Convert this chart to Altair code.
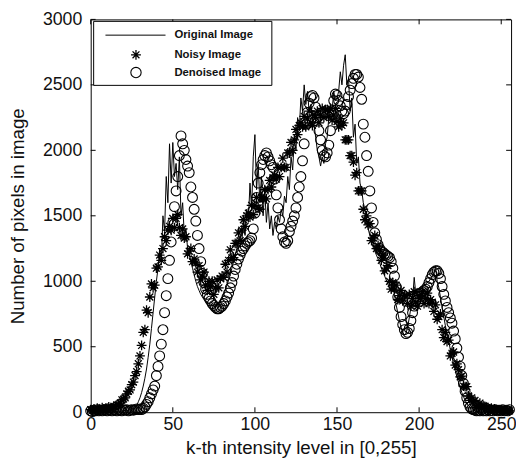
import altair as alt
import pandas as pd

# intensity levels 0..255
levels = list(range(256))

# Original image histogram (line)
original = [
    5, 10, 5, 10, 5, 10, 5, 10, 5, 10, 5, 10, 5, 10, 5, 10,
    5, 10, 5, 10, 10, 15, 10, 15, 20, 15, 20, 30, 50, 80, 110, 150,
    200, 260, 330, 420, 520, 640, 760, 880, 1000, 1100, 1250, 1150, 1500, 1380, 1800, 1600,
    2050, 1750, 2060, 1800, 1900, 1700, 1950, 1500, 1600, 1350, 1400, 1250, 1200, 1150, 1100, 1050,
    1000, 960, 930, 900, 880, 860, 850, 840, 830, 820, 820, 810, 810, 820, 830, 850,
    870, 900, 930, 970, 1010, 1050, 1100, 1150, 1200, 1250, 1300, 1350, 1300, 1450, 1350, 1550,
    1450, 1750, 1550, 1950, 2120, 1700, 1900, 1600, 1800, 1500, 1700, 1450, 1600, 1400, 1500, 1350,
    1450, 1400, 1500, 1450, 1550, 1500, 1650, 1600, 1800, 1700, 1950, 1850, 2100, 2000, 2250, 2150,
    2400, 2300, 2500, 2350, 2450, 2300, 2350, 2250, 2200, 2100, 2000, 1950, 1880, 1950, 1900, 2050,
    2100, 2250, 2350, 2300, 2450, 2380, 2400, 2450, 2600, 2500, 2650, 2730, 2500, 2550, 2300, 2400,
    2100, 2200, 1900, 1950, 1750, 1700, 1600, 1550, 1450, 1400, 1350, 1300, 1260, 1230, 1200, 1170,
    1140, 1100, 1070, 1040, 1010, 980, 950, 920, 1000, 900, 820, 760, 700, 650, 610, 590,
    600, 650, 720, 800, 860, 1030, 900, 920, 930, 940, 950, 960, 980, 990, 1000, 1020,
    1040, 1060, 1115, 1000, 950, 880, 800, 730, 660, 600, 540, 480, 420, 370, 320, 270,
    230, 190, 150, 120, 90, 70, 50, 40, 30, 20, 10, 10, 5, 10, 5, 10,
    5, 10, 5, 10, 5, 10, 5, 10, 5, 10, 5, 10, 5, 10, 5, 10,
]

# Noisy image histogram (asterisks)
noisy = [
    20, 15, 25, 10, 30, 20, 15, 35, 25, 20, 30, 40, 25, 35, 45, 40,
    55, 60, 70, 95, 100, 110, 140, 160, 170, 210, 230, 280, 310, 370, 430, 510,
    610, 630, 780, 760, 880, 980, 950, 970, 1100, 1110, 1200, 1160, 1250, 1340, 1310, 1390,
    1420, 1390, 1480, 1410, 1480, 1510, 1410, 1350, 1400, 1330, 1340, 1210, 1230, 1250, 1150, 1170,
    1140, 1070, 1120, 1010, 1040, 1070, 970, 930, 1000, 960, 1000, 900, 950, 1010, 950, 1020,
    1040, 1030, 1130, 1070, 1160, 1240, 1180, 1180, 1290, 1290, 1370, 1310, 1390, 1470, 1420, 1500,
    1520, 1490, 1580, 1510, 1580, 1640, 1560, 1550, 1640, 1630, 1700, 1630, 1700, 1770, 1720, 1790,
    1810, 1780, 1870, 1800, 1870, 1940, 1870, 1870, 1980, 1980, 2060, 2000, 2080, 2160, 2120, 2190,
    2210, 2180, 2260, 2180, 2240, 2300, 2210, 2190, 2270, 2250, 2300, 2210, 2270, 2320, 2250, 2310,
    2310, 2260, 2320, 2230, 2270, 2320, 2220, 2180, 2240, 2190, 2210, 2080, 2080, 2080, 1960, 1960,
    1910, 1810, 1830, 1690, 1690, 1690, 1550, 1470, 1500, 1430, 1440, 1310, 1330, 1350, 1250, 1270,
    1240, 1160, 1200, 1080, 1100, 1120, 1000, 940, 990, 940, 970, 860, 890, 930, 850, 890,
    890, 830, 900, 810, 870, 920, 840, 810, 890, 870, 920, 830, 870, 910, 830, 860,
    840, 770, 820, 710, 730, 750, 630, 570, 610, 540, 550, 430, 450, 460, 360, 370,
    325, 270, 275, 200, 195, 195, 125, 90, 110, 80, 90, 35, 50, 70, 30, 50,
    45, 35, 35, 25, 30, 20, 25, 20, 20, 15, 20, 15, 15, 10, 15, 10,
]

# Denoised image histogram (circles)
denoised = [
    10, 5, 15, 10, 20, 10, 15, 10, 20, 15, 10, 20, 15, 10, 20, 15,
    10, 20, 15, 10, 20, 15, 20, 10, 15, 20, 15, 20, 25, 20, 25, 20,
    30, 40, 60, 80, 110, 140, 170, 200, 280, 350, 430, 520, 630, 760, 890, 1020,
    1160, 1300, 1450, 1570, 1690, 1800, 1960, 2110, 2050, 2000, 1930, 1880, 1830, 1720, 1640, 1550,
    1460, 1350, 1250, 1150, 1060, 990, 940, 900, 870, 850, 830, 815, 800, 790, 790, 800,
    810, 830, 850, 880, 910, 950, 990, 1040, 1090, 1130, 1170, 1200, 1230, 1250, 1270, 1290,
    1300, 1310, 1330, 1400, 1520, 1640, 1750, 1830, 1890, 1930, 1960, 1980, 1950, 1920, 1890, 1870,
    1780, 1660, 1560, 1470, 1400, 1340, 1300, 1290, 1310, 1380, 1420, 1460, 1500, 1560, 1640, 1720,
    1800, 1920, 2050, 2200, 2290, 2360, 2410, 2420, 2400, 2330, 2250, 2150, 2080, 2000, 1960, 1950,
    1980, 2040, 2150, 2270, 2380, 2430, 2420, 2380, 2340, 2300, 2280, 2300, 2350, 2410, 2460, 2510,
    2550, 2580, 2580, 2560, 2480, 2390, 2200, 2100, 1960, 1840, 1690, 1560, 1450, 1370, 1320, 1280,
    1250, 1230, 1220, 1210, 1200, 1190, 1180, 1150, 1100, 1040, 960, 880, 800, 730, 670, 630,
    600, 610, 640, 700, 760, 810, 850, 880, 900, 910, 920, 930, 940, 960, 990, 1020,
    1050, 1070, 1080, 1080, 1060, 1020, 960, 900, 850, 800, 760, 720, 680, 620, 560, 490,
    420, 350, 280, 220, 160, 110, 70, 40, 25, 20, 15, 10, 15, 10, 20, 10,
    15, 10, 20, 10, 15, 10, 20, 15, 10, 15, 10, 20, 10, 15, 10, 20,
]

x_ticks = [0, 50, 100, 150, 200, 250]
y_ticks = [0, 500, 1000, 1500, 2000, 2500, 3000]
legend_labels = ["Original Image", "Noisy Image", "Denoised Image"]

W, H = 427, 399
FONT = "Liberation Sans"
ASTERISK = "M-1,0L1,0M0,-1L0,1M-0.7,-0.7L0.7,0.7M-0.7,0.7L0.7,-0.7"

df = pd.DataFrame({"x": levels, "O": original, "N": noisy, "D": denoised})
xs = alt.Scale(domain=[0, 256], nice=False, zero=False)
ys = alt.Scale(domain=[0, 3000], nice=False, zero=False)

x_axis = alt.Axis(values=x_ticks, title="k-th intensity level in [0,255]", grid=False,
                  ticks=False, domain=False, labelPadding=4, labelFontSize=18,
                  labelFlush=False,
                  labelFont=FONT, labelColor="#111", titleFont=FONT, titleFontSize=19,
                  titleFontWeight="normal", titleColor="#111", format="d",
                  titleX=W / 2, titleY=36, titleBaseline="middle")
y_axis = alt.Axis(values=y_ticks, title="Number of pixels in image", grid=False,
                  ticks=False, domain=False, labelPadding=9, labelFontSize=18,
                  labelFlush=False,
                  labelFont=FONT, labelColor="#111", titleFont=FONT, titleFontSize=19,
                  titleFontWeight="normal", titleColor="#111", format="d",
                  titleX=-74, titleY=H / 2, titleAngle=270, titleBaseline="middle")

base = alt.Chart(df)
line = base.mark_line(color="black", strokeWidth=1).encode(
    x=alt.X("x:Q", scale=xs, axis=x_axis),
    y=alt.Y("O:Q", scale=ys, axis=y_axis),
)
stars = base.mark_point(shape=ASTERISK, filled=False, size=100, color="black",
                        strokeWidth=1.3, opacity=1).encode(
    x=alt.X("x:Q", scale=xs), y=alt.Y("N:Q", scale=ys))
circles = base.mark_point(shape="circle", filled=False, size=100, color="black",
                          strokeWidth=1.1, opacity=1).encode(
    x=alt.X("x:Q", scale=xs), y=alt.Y("D:Q", scale=ys))

xt = alt.Chart(pd.DataFrame({"t": x_ticks}))
yt = alt.Chart(pd.DataFrame({"t": y_ticks}))
tick_b = xt.mark_rule(color="black", strokeWidth=1).encode(
    x=alt.X("t:Q", scale=xs), y=alt.value(H), y2=alt.value(H - 5))
tick_t = xt.mark_rule(color="black", strokeWidth=1).encode(
    x=alt.X("t:Q", scale=xs), y=alt.value(0), y2=alt.value(5))
tick_l = yt.mark_rule(color="black", strokeWidth=1).encode(
    y=alt.Y("t:Q", scale=ys), x=alt.value(0), x2=alt.value(5))
tick_r = yt.mark_rule(color="black", strokeWidth=1).encode(
    y=alt.Y("t:Q", scale=ys), x=alt.value(W), x2=alt.value(W - 5))

one = alt.Chart(pd.DataFrame({"k": [0]}))
leg_box = one.mark_rect(fill="white", stroke="black", strokeWidth=1).encode(
    x=alt.value(3), x2=alt.value(184), y=alt.value(2), y2=alt.value(67))
leg_line = one.mark_rule(color="black", strokeWidth=1).encode(
    x=alt.value(15), x2=alt.value(76), y=alt.value(16))
leg_star = one.mark_point(shape=ASTERISK, filled=False, size=100, color="black",
                          strokeWidth=1.3, opacity=1).encode(x=alt.value(46), y=alt.value(36))
leg_circ = one.mark_point(shape="circle", filled=False, size=110, color="black",
                          strokeWidth=1.1, opacity=1).encode(x=alt.value(46), y=alt.value(54))
leg_texts = []
for i, lab in enumerate(legend_labels):
    leg_texts.append(one.mark_text(align="left", baseline="middle", font=FONT,
                                   fontSize=11.5, fontWeight="bold", color="#111").encode(
        x=alt.value(85), y=alt.value([16, 36, 54][i]), text=alt.value(lab)))

chart = alt.layer(line, stars, circles, tick_b, tick_t, tick_l, tick_r,
                  leg_box, leg_line, leg_star, leg_circ, *leg_texts).properties(
    width=W, height=H,
    autosize=alt.AutoSizeParams(type="none"),
    padding={"left": 84, "top": 8, "right": 5, "bottom": 48},
).configure_view(stroke="black", strokeWidth=1)

chart.save("out.html", embed_options={"renderer": "svg", "actions": False})
